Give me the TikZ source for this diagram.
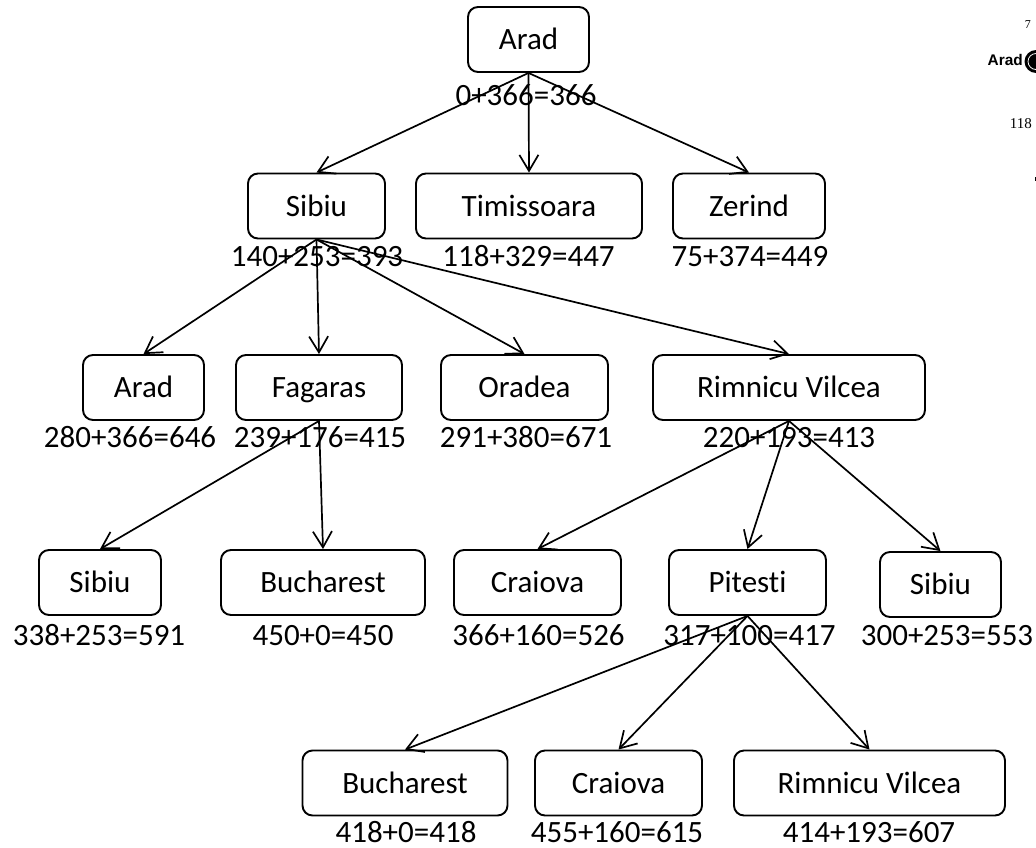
\documentclass[tikz,border=0pt]{standalone}
\usepackage{fontspec}
\setmainfont{Carlito}[Ligatures={NoCommon}]
\newfontfamily\fragsans{Liberation Sans}
\newfontfamily\fragserif{Liberation Serif}
\usetikzlibrary{arrows.meta}
\begin{document}
\begin{tikzpicture}[x=1pt,y=-1pt,
  city/.style={draw, line width=1.9pt, rounded corners=10pt, minimum height=65pt,
    inner sep=0pt, font=\fontsize{31}{31}\selectfont, text height=20pt, text depth=0pt},
  cost/.style={inner sep=0pt, font=\fontsize{31}{31}\selectfont, text height=19.5pt, text depth=0pt},
  edge/.style={line width=1.7pt, -{Straight Barb[length=16pt,width=19pt,line width=1.7pt]}}]
\useasboundingbox (0,0) rectangle (1036,847);

% row 0
\node[city, minimum width=121pt] (a0) at (528.5,39.5) {Arad};
% row 1
\node[city, minimum width=137pt] (s1) at (316.5,206) {Sibiu};
\node[city, minimum width=226pt] (t1) at (529,206) {Timissoara};
\node[city, minimum width=152pt] (z1) at (749,206) {Zerind};
% row 2
\node[city, minimum width=121pt] (a2) at (143.5,387.5) {Arad};
\node[city, minimum width=166pt] (f2) at (319,387.5) {Fagaras};
\node[city, minimum width=167pt] (o2) at (524.5,387.5) {Oradea};
\node[city, minimum width=272pt] (r2) at (789,387.5) {Rimnicu Vilcea};
% row 3
\node[city, minimum width=122pt] (s3) at (100,582.5) {Sibiu};
\node[city, minimum width=204pt] (b3) at (323,582.5) {Bucharest};
\node[city, minimum width=167pt] (c3) at (537.5,582.5) {Craiova};
\node[city, minimum width=157pt] (p3) at (747.5,582.5) {Pitesti};
\node[city, minimum width=121pt] (s3b) at (940.5,584.5) {Sibiu};
% row 4
\node[city, minimum width=205pt] (b4) at (405,783) {Bucharest};
\node[city, minimum width=167pt] (c4) at (618.5,783) {Craiova};
\node[city, minimum width=271pt] (r4) at (869.5,783) {Rimnicu Vilcea};

% costs
\node[cost] (l-a0) at (526,96) {0+366=366};
\node[cost] (l-s1) at (317,257) {140+253=393};
\node[cost] (l-t1) at (528.5,257) {118+329=447};
\node[cost] (l-z1) at (750,257) {75+374=449};
\node[cost] (l-a2) at (130,438) {280+366=646};
\node[cost] (l-f2) at (320,438) {239+176=415};
\node[cost] (l-o2) at (526,438) {291+380=671};
\node[cost] (l-r2) at (789,438) {220+193=413};
\node[cost] (l-s3) at (99,636) {338+253=591};
\node[cost] (l-b3) at (323,636) {450+0=450};
\node[cost] (l-c3) at (538.5,636) {366+160=526};
\node[cost] (l-p3) at (749.5,636) {317+100=417};
\node[cost] (l-s3b) at (947,636) {300+253=553};
\node[cost] (l-b4) at (406,833) {418+0=418};
\node[cost] (l-c4) at (617,833) {455+160=615};
\node[cost] (l-r4) at (869,833) {414+193=607};

% edges
\draw[edge] (a0.south) -- (s1.north);
\draw[edge] (a0.south) -- (t1.north);
\draw[edge] (a0.south) -- (z1.north);
\draw[edge] (s1.south) -- (a2.north);
\draw[edge] (s1.south) -- (f2.north);
\draw[edge] (s1.south) -- (o2.north);
\draw[edge] (s1.south) -- (r2.north);
\draw[edge] (f2.south) -- (s3.north);
\draw[edge] (f2.south) -- (b3.north);
\draw[edge] (r2.south) -- (c3.north);
\draw[edge] (r2.south) -- (p3.north);
\draw[edge] (r2.south) -- (s3b.north);
\draw[edge] (p3.south) -- (b4.north);
\draw[edge] (p3.south) -- (c4.north);
\draw[edge] (p3.south) -- (r4.north);

% cropped fragment at the top right edge
\node[anchor=base east, inner sep=0pt, font=\fragserif\fontsize{12}{12}\selectfont] (f7) at (1031,28) {7};
\node[anchor=base east, inner sep=0pt, font=\fragsans\bfseries\fontsize{15.4}{15.4}\selectfont] (farad) at (1023,65.5) {Arad};
\fill[black] (1036,61.5) circle[radius=11.5pt];
\draw[white, line width=0.8pt] (1036,61.5) circle[radius=8pt];
\node[anchor=base east, inner sep=0pt, font=\fragserif\fontsize{15}{15}\selectfont] (f118) at (1032,128) {118};
\draw[line width=0.6pt] (1035,177) -- (1035,181);
\end{tikzpicture}
\end{document}
